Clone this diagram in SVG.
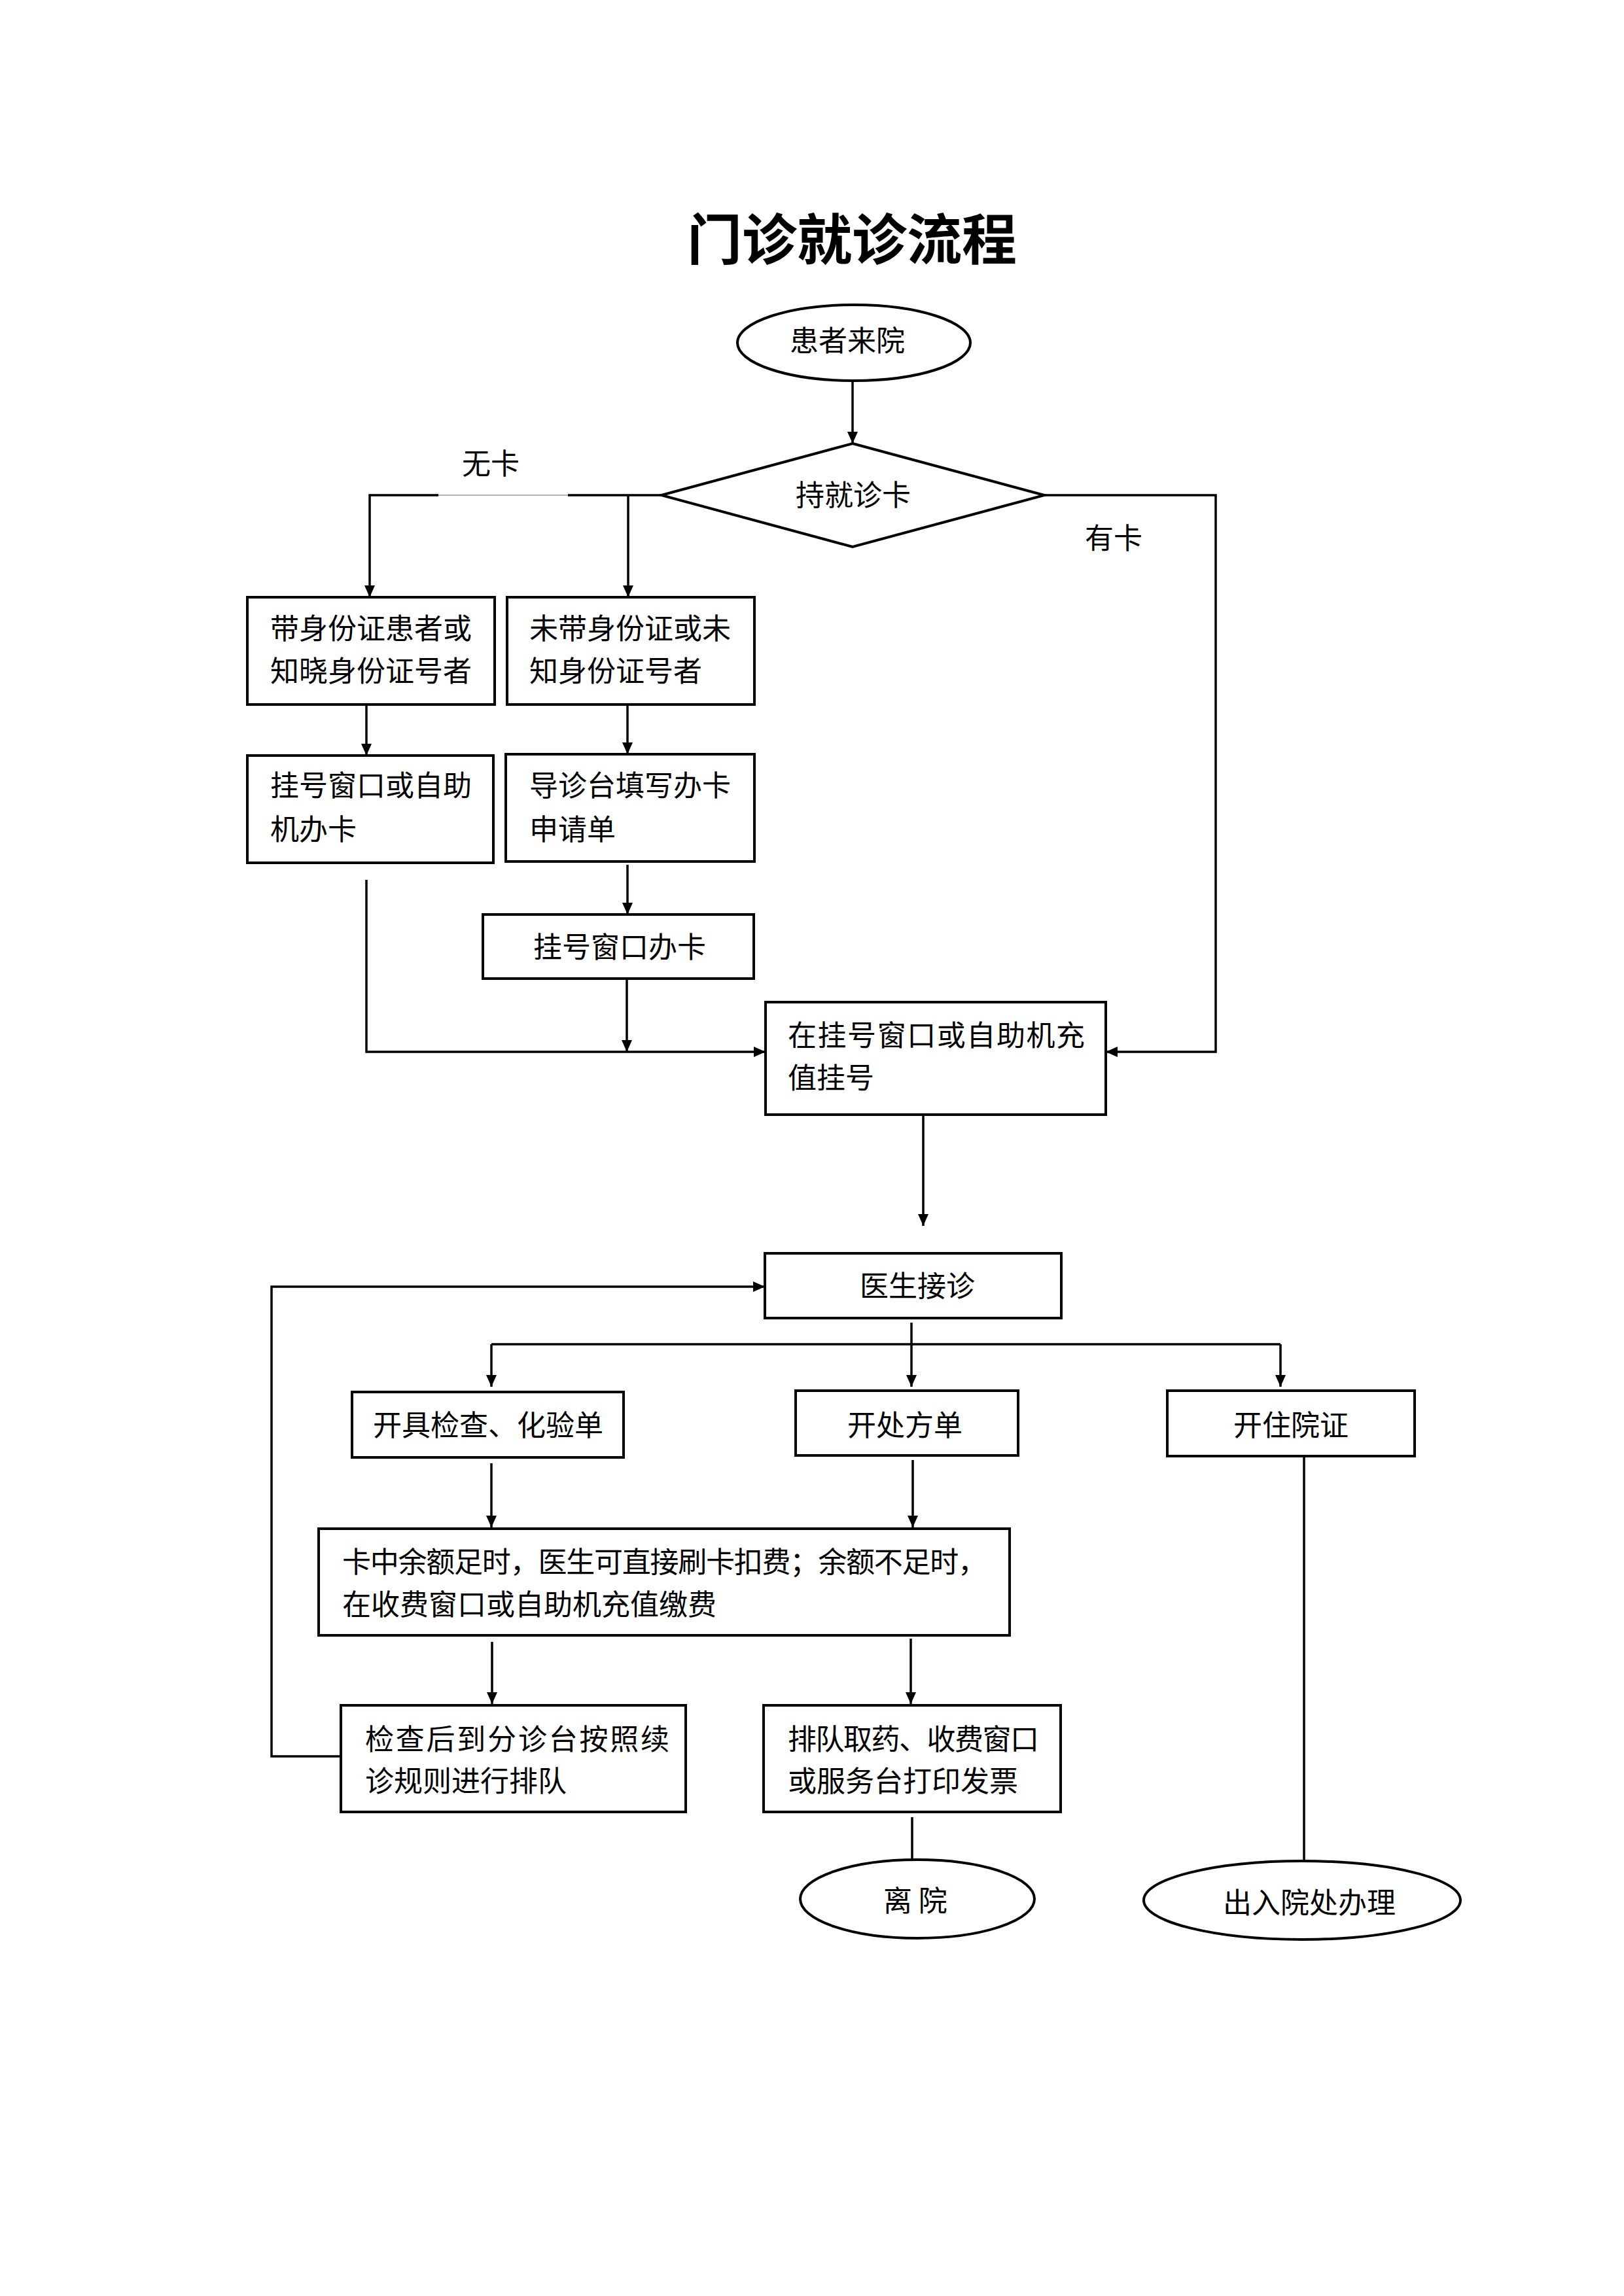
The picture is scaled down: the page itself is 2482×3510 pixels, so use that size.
<svg xmlns="http://www.w3.org/2000/svg" width="2482" height="3510" viewBox="0 0 2482 3510">
<style>
.bx{fill:#fff;stroke:#000;stroke-width:4}
.ln{fill:none;stroke:#000;stroke-width:3.5}
.t{font-family:"Noto Sans CJK SC","Noto Sans CJK TC",sans-serif;font-size:44px;fill:#000}
.title{font-family:"Noto Sans CJK SC",sans-serif;font-size:84px;font-weight:bold;fill:#000}
</style>
<defs>
<marker id="ah" markerUnits="userSpaceOnUse" markerWidth="18" markerHeight="16" refX="18" refY="8" orient="auto">
<path d="M0,0 L18,8 L0,16 z" fill="#000"/>
</marker>
</defs>
<rect width="2482" height="3510" fill="#fff"/>
<text class="title" x="1302" y="397" text-anchor="middle">门诊就诊流程</text>

<g id="connectors">
<line class="ln" x1="1303" y1="583" x2="1303" y2="678" marker-end="url(#ah)"/>
<polyline class="ln" points="670,757 565,757 565,913" marker-end="url(#ah)"/>
<line x1="670" y1="757" x2="868" y2="757" stroke="#999" stroke-width="1.5"/>
<line class="ln" x1="868" y1="757" x2="1011" y2="757"/>
<line class="ln" x1="960" y1="757" x2="960" y2="913" marker-end="url(#ah)"/>
<polyline class="ln" points="1596,757 1858,757 1858,1608 1690,1608" marker-end="url(#ah)"/>
<line class="ln" x1="560" y1="1077" x2="560" y2="1155" marker-end="url(#ah)"/>
<line class="ln" x1="959" y1="1077" x2="959" y2="1153" marker-end="url(#ah)"/>
<polyline class="ln" points="560,1345 560,1608 1170,1608" marker-end="url(#ah)"/>
<line class="ln" x1="959" y1="1322" x2="959" y2="1398" marker-end="url(#ah)"/>
<line class="ln" x1="958" y1="1496" x2="958" y2="1608" marker-end="url(#ah)"/>
<line class="ln" x1="1411" y1="1704" x2="1411" y2="1874" marker-end="url(#ah)"/>
<polyline class="ln" points="521,2685 415,2685 415,1967 1169,1967" marker-end="url(#ah)"/>
<line class="ln" x1="1393" y1="2022" x2="1393" y2="2120" marker-end="url(#ah)"/>
<line class="ln" x1="751" y1="2055" x2="1957" y2="2055"/>
<line class="ln" x1="751" y1="2055" x2="751" y2="2120" marker-end="url(#ah)"/>
<line class="ln" x1="1957" y1="2055" x2="1957" y2="2120" marker-end="url(#ah)"/>
<line class="ln" x1="751" y1="2237" x2="751" y2="2335" marker-end="url(#ah)"/>
<line class="ln" x1="1395" y1="2232" x2="1395" y2="2335" marker-end="url(#ah)"/>
<line class="ln" x1="752" y1="2510" x2="752" y2="2605" marker-end="url(#ah)"/>
<line class="ln" x1="1392" y1="2505" x2="1392" y2="2605" marker-end="url(#ah)"/>
<line class="ln" x1="1394" y1="2778" x2="1394" y2="2843"/>
<line class="ln" x1="1993" y1="2226" x2="1993" y2="2845"/>
</g>

<g id="label-wuka"><text class="t" x="706" y="725">无卡</text></g>
<g id="label-youka"><text class="t" x="1658" y="839">有卡</text></g>

<g id="n-start">
<ellipse class="bx" cx="1305" cy="524" rx="178" ry="58"/>
<text class="t" x="1207" y="537">患者来院</text>
</g>
<g id="n-decision">
<polygon class="bx" points="1303,678 1596,757 1303,836 1011,757"/>
<text class="t" x="1216" y="773">持就诊卡</text>
</g>
<g id="n-box1">
<rect class="bx" x="378" y="913" width="378" height="164"/>
<text class="t" x="413" y="977">带身份证患者或</text>
<text class="t" x="413" y="1042">知晓身份证号者</text>
</g>
<g id="n-box2">
<rect class="bx" x="775" y="913" width="378" height="164"/>
<text class="t" x="809" y="977">未带身份证或未</text>
<text class="t" x="809" y="1042">知身份证号者</text>
</g>
<g id="n-box3">
<rect class="bx" x="378" y="1155" width="376" height="164"/>
<text class="t" x="413" y="1217">挂号窗口或自助</text>
<text class="t" x="413" y="1284">机办卡</text>
</g>
<g id="n-box4">
<rect class="bx" x="773" y="1153" width="380" height="164"/>
<text class="t" x="809" y="1217">导诊台填写办卡</text>
<text class="t" x="809" y="1284">申请单</text>
</g>
<g id="n-card">
<rect class="bx" x="738" y="1398" width="414" height="98"/>
<text class="t" x="815" y="1464">挂号窗口办卡</text>
</g>
<g id="n-register">
<rect class="bx" x="1170" y="1532" width="520" height="172"/>
<text class="t" x="1204" y="1599" textLength="454" lengthAdjust="spacing">在挂号窗口或自助机充</text>
<text class="t" x="1204" y="1664">值挂号</text>
</g>
<g id="n-doctor">
<rect class="bx" x="1169" y="1916" width="453" height="99"/>
<text class="t" x="1314" y="1982">医生接诊</text>
</g>
<g id="n-exam">
<rect class="bx" x="538" y="2128" width="415" height="100"/>
<text class="t" x="570" y="2195">开具检查、化验单</text>
</g>
<g id="n-rx">
<rect class="bx" x="1216" y="2126" width="340" height="99"/>
<text class="t" x="1295" y="2195">开处方单</text>
</g>
<g id="n-admit">
<rect class="bx" x="1784" y="2126" width="378" height="100"/>
<text class="t" x="1885" y="2195">开住院证</text>
</g>
<g id="n-pay">
<rect class="bx" x="487" y="2337" width="1056" height="163"/>
<text class="t" x="523" y="2404" textLength="985" lengthAdjust="spacing">卡中余额足时，医生可直接刷卡扣费；余额不足时，</text>
<text class="t" x="523" y="2469">在收费窗口或自助机充值缴费</text>
</g>
<g id="n-queue">
<rect class="bx" x="521" y="2607" width="527" height="163"/>
<text class="t" x="558" y="2675" textLength="465" lengthAdjust="spacing">检查后到分诊台按照续</text>
<text class="t" x="558" y="2739">诊规则进行排队</text>
</g>
<g id="n-drug">
<rect class="bx" x="1167" y="2607" width="454" height="163"/>
<text class="t" x="1204" y="2675" textLength="384" lengthAdjust="spacing">排队取药、收费窗口</text>
<text class="t" x="1204" y="2739">或服务台打印发票</text>
</g>
<g id="n-leave">
<ellipse class="bx" cx="1402" cy="2903" rx="179" ry="60"/>
<text class="t" x="1350" y="2922">离 院</text>
</g>
<g id="n-inpatient">
<ellipse class="bx" cx="1990" cy="2905" rx="242" ry="60"/>
<text class="t" x="1869" y="2925">出入院处办理</text>
</g>
</svg>
